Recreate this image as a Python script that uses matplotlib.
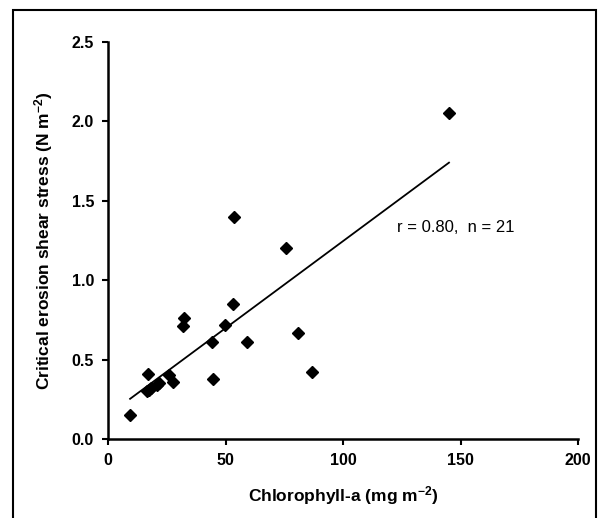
import numpy as np
import matplotlib
matplotlib.use("Agg")
import matplotlib.pyplot as plt
from matplotlib.patches import Rectangle

# chlorophyll-a (mg m-2) vs critical erosion shear stress (N m-2)
chl = [9.4, 16.9, 16.5, 17.5, 18.2, 20.7, 21.5, 26.1, 27.5, 32.3, 32.1,
       44.1, 44.5, 49.8, 53.3, 53.6, 59.0, 75.6, 81.0, 86.7, 145.1]
tau = [0.15, 0.41, 0.30, 0.31, 0.32, 0.34, 0.35, 0.40, 0.36, 0.765, 0.71,
       0.61, 0.38, 0.72, 0.853, 1.40, 0.61, 1.20, 0.665, 0.42, 2.05]
fit_slope = 0.01096
fit_icept = 0.150
xticks = [0, 50, 100, 150, 200]
yticks = [0.0, 0.5, 1.0, 1.5, 2.0, 2.5]

plt.rcParams["font.family"] = ["Liberation Sans", "DejaVu Sans"]
plt.rcParams["font.weight"] = "bold"
plt.rcParams["mathtext.fontset"] = "custom"
plt.rcParams["mathtext.rm"] = "Liberation Sans:bold"
plt.rcParams["mathtext.default"] = "rm"

W, H = 599, 518
fig = plt.figure(figsize=(W / 100, H / 100), dpi=100)
ax = fig.add_axes([108 / W, 1 - 439 / H, 470 / W, 397 / H])

# outer frame
fig.patches.append(Rectangle((13 / W, -0.01), 583 / W, 1 - 10 / H + 0.01,
                             transform=fig.transFigure, fill=False,
                             edgecolor="black", lw=1.5))

ax.plot(chl, tau, "D", color="black", markersize=6, zorder=3)

xs = np.array([min(chl), max(chl)])
ax.plot(xs, fit_slope * xs + fit_icept, color="black", lw=1.3)

ax.text(123, 1.33, "r = 0.80,  n = 21", fontsize=12, fontweight="normal",
        ha="left", va="center")

ax.set_xlim(0, 200)
ax.set_ylim(0, 2.5)
ax.set_xticks(xticks)
ax.set_xticklabels([str(v) for v in xticks])
ax.set_yticks(yticks)
ax.set_yticklabels([f"{v:.1f}" for v in yticks])
for s in ["top", "right"]:
    ax.spines[s].set_visible(False)
for s in ["left", "bottom"]:
    ax.spines[s].set_linewidth(1.8)
ax.tick_params(direction="out", length=4, width=1.5, labelsize=11.5, pad=6)

ax.set_xlabel(r"Chlorophyll-a (mg m$^{-2}$)", fontsize=12.5, fontweight="bold",
              labelpad=12)
ax.set_ylabel(r"Critical erosion shear stress (N m$^{-2}$)", fontsize=12.5,
              fontweight="bold", labelpad=12)

fig.savefig("out.png", dpi=100)
